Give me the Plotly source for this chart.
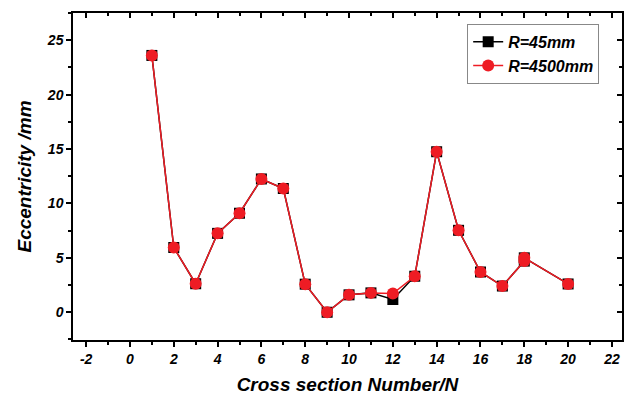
import plotly.graph_objects as go

sections = [1, 2, 3, 4, 5, 6, 7, 8, 9, 10, 11, 12, 13, 14, 15, 16, 17, 18, 18, 20]
ecc_r45 = [23.6, 5.95, 2.62, 7.25, 9.1, 12.25, 11.37, 2.58, 0.0, 1.6, 1.78, 1.17, 3.31, 14.75, 7.53, 3.7, 2.41, 4.7, 5.0, 2.6]
ecc_r4500 = [23.6, 5.95, 2.62, 7.25, 9.1, 12.25, 11.37, 2.58, 0.0, 1.6, 1.78, 1.72, 3.31, 14.75, 7.53, 3.7, 2.41, 4.7, 5.0, 2.6]
x_ticks = [-2, 0, 2, 4, 6, 8, 10, 12, 14, 16, 18, 20, 22]
y_ticks = [0, 5, 10, 15, 20, 25]

FONT = "Liberation Sans, Arial, sans-serif"
XR = [-2.6, 22.46]
YR = [-2.55, 27.5]

fig = go.Figure()
fig.add_trace(go.Scatter(
    x=sections, y=ecc_r45, mode="lines+markers", name="R=45mm",
    line=dict(color="black", width=1.5),
    marker=dict(symbol="square", size=11, color="black"),
))
fig.add_trace(go.Scatter(
    x=sections, y=ecc_r4500, mode="lines+markers", name="R=4500mm",
    line=dict(color="#ee1c24", width=1.5),
    marker=dict(symbol="circle", size=12, color="#ee1c24"),
))

tickfont = dict(family=FONT, size=14, color="black", weight="bold", style="italic")
titlefont = dict(family=FONT, size=19, color="black", weight="bold", style="italic")

fig.update_layout(
    width=638, height=403,
    margin=dict(l=73, r=16, t=11, b=59),
    paper_bgcolor="white", plot_bgcolor="white",
    showlegend=True,
    legend=dict(
        x=0.718, y=0.967, xanchor="left", yanchor="top",
        bordercolor="#888888", borderwidth=1, bgcolor="white",
        font=dict(family=FONT, size=16, color="black", weight="bold", style="italic"),
        tracegroupgap=0, itemwidth=30,
    ),
    xaxis=dict(
        range=XR, tickvals=x_ticks, ticktext=[str(v) for v in x_ticks],
        showgrid=False, zeroline=False,
        showline=True, linecolor="black", linewidth=1.5, mirror=True,
        ticks="outside", ticklen=5, tickwidth=1.5, tickcolor="black",
        minor=dict(dtick=1, tick0=0, ticks="outside", ticklen=3, tickwidth=1.5, tickcolor="black"),
        tickfont=tickfont,
        title=dict(text="Cross section Number/N", font=titlefont, standoff=12),
    ),
    yaxis=dict(
        range=YR, tickvals=y_ticks, ticktext=[str(v) for v in y_ticks],
        showgrid=False, zeroline=False,
        showline=True, linecolor="black", linewidth=1.5, mirror=True,
        ticks="outside", ticklen=5, tickwidth=1.5, tickcolor="black",
        minor=dict(dtick=2.5, tick0=0, ticks="outside", ticklen=3, tickwidth=1.5, tickcolor="black"),
        tickfont=tickfont,
        title=dict(text="Eccentricity /mm", font=titlefont, standoff=10),
    ),
    xaxis2=dict(
        overlaying="x", side="top", anchor="y", range=XR, dtick=2, tick0=0,
        showgrid=False, zeroline=False, showticklabels=False, showline=False,
        ticks="inside", ticklen=5, tickwidth=1.5, tickcolor="black",
        minor=dict(dtick=1, ticks="inside", ticklen=3, tickwidth=1.5, tickcolor="black"),
    ),
    yaxis2=dict(
        overlaying="y", side="right", anchor="x", range=YR, dtick=5, tick0=0,
        showgrid=False, zeroline=False, showticklabels=False, showline=False,
        ticks="inside", ticklen=5, tickwidth=1.5, tickcolor="black",
        minor=dict(dtick=2.5, ticks="inside", ticklen=3, tickwidth=1.5, tickcolor="black"),
    ),
)

# invisible helper trace so the mirrored tick axes are rendered
fig.add_trace(go.Scatter(x=[None], y=[None], xaxis="x2", yaxis="y2", showlegend=False, hoverinfo="skip"))

fig.write_html("out.html")
